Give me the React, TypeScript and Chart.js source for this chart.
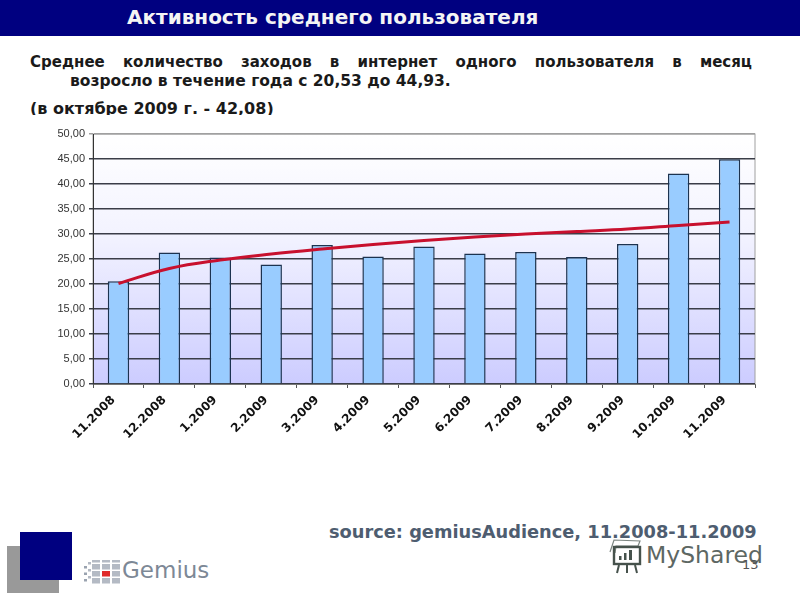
import { useEffect, useRef } from "react";
import Chart from "chart.js/auto";

const months = ["11.2008", "12.2008", "1.2009", "2.2009", "3.2009", "4.2009", "5.2009", "6.2009", "7.2009", "8.2009", "9.2009", "10.2009", "11.2009"];
const visits = [20.53, 26.3, 25.3, 23.9, 27.8, 25.5, 27.5, 26.1, 26.4, 25.4, 28.0, 42.08, 44.93];
const trend = [20.1, 23.1, 24.8, 26.0, 27.0, 27.9, 28.7, 29.4, 30.0, 30.5, 31.0, 31.7, 32.4];

const title = "Активность среднего пользователя";
const line1 = "Среднее количество заходов в интернет одного пользователя в месяц";
const line2 = "возросло в течение года с 20,53 до 44,93.";
const line3 = "(в октябре 2009 г. - 42,08)";
const source = "source: gemiusAudience, 11.2008-11.2009";

const font = '"DejaVu Sans", Verdana, sans-serif';

// gradient behind the bars + grey frame
const plotBackground = {
  id: "plotBackground",
  beforeDraw(chart: any) {
    const { ctx, chartArea: a } = chart;
    const g = ctx.createLinearGradient(0, a.top, 0, a.bottom);
    g.addColorStop(0, "#ffffff");
    g.addColorStop(0.4, "#f3f3ff");
    g.addColorStop(1, "#ccccff");
    ctx.save();
    ctx.fillStyle = g;
    ctx.fillRect(a.left, a.top, a.right - a.left, a.bottom - a.top);
    ctx.strokeStyle = "#a0a0a0";
    ctx.lineWidth = 1;
    ctx.strokeRect(a.left, a.top, a.right - a.left, a.bottom - a.top);
    ctx.restore();
  },
};

function GemiusMark() {
  const cols = [0, 1, 2];
  const rows = [0, 1, 2, 3];
  return (
    <svg width="40" height="30" style={{ position: "absolute", left: 83, top: 558 }}>
      {[8, 14.5, 21].map((y) => (
        <rect key={y} x="1" y={y} width="3" height="2.5" fill="#9aa3b0" />
      ))}
      {[4, 11, 18].map((y) => (
        <rect key={y} x="5" y={y} width="3" height="2.5" fill="#b4bac4" />
      ))}
      {cols.map((c) =>
        rows.map((r) => (
          <rect
            key={c + "-" + r}
            x={9 + c * 10}
            y={r === 0 ? 2 : r * 7 - 1}
            width="8"
            height={r === 0 ? 2.5 : 5.5}
            fill={c === 1 && r === 2 ? "#e02a2a" : "#b4bac4"}
          />
        ))
      )}
    </svg>
  );
}

function MySharedIcon() {
  return (
    <svg width="36" height="36" viewBox="0 0 36 36" style={{ position: "absolute", left: 608, top: 538 }} fill="none" stroke="#46524c">
      <path d="M2 14 L6 2 L32 3 L30 8 L8 8 L7 15" strokeWidth="1.2" stroke="#7b8580" />
      <rect x="6" y="9" width="26" height="17" strokeWidth="2.4" />
      <rect x="11" y="18" width="2.5" height="4" fill="#46524c" stroke="none" />
      <rect x="16" y="15" width="2.5" height="7" fill="#46524c" stroke="none" />
      <rect x="21" y="12" width="3" height="10" fill="#46524c" stroke="none" />
      <path d="M11 27 L9 35 M19 27 L19 35 M27 27 L29 35" strokeWidth="2" />
    </svg>
  );
}

export default function App() {
  const ref = useRef<HTMLCanvasElement>(null);

  useEffect(() => {
    if (!ref.current) return;
    const chart = new Chart(ref.current, {
      type: "bar",
      plugins: [plotBackground],
      data: {
        labels: months,
        datasets: [
          {
            type: "line",
            label: "Тренд",
            data: trend,
            borderColor: "#c8102e",
            borderWidth: 3,
            pointRadius: 0,
            tension: 0.4,
            order: 0,
          },
          {
            type: "bar",
            label: "Заходы",
            data: visits,
            backgroundColor: "#99ccff",
            borderColor: "#1c3350",
            borderWidth: 1.5,
            barPercentage: 0.42,
            categoryPercentage: 1,
            order: 1,
          },
        ],
      },
      options: {
        animation: false,
        responsive: false,
        devicePixelRatio: 1,
        layout: { padding: { left: 0, right: 45, top: 19, bottom: 0 } },
        plugins: { legend: { display: false }, title: { display: false }, tooltip: { enabled: false } },
        scales: {
          x: {
            afterFit: (s: any) => {
              s.height = 76;
            },
            border: { color: "#777777" },
            grid: { drawOnChartArea: false, drawTicks: true, tickLength: 4, color: "#555555" },
            ticks: {
              color: "#111111",
              font: { family: font, size: 12, weight: "bold" },
              minRotation: 45,
              maxRotation: 45,
              autoSkip: false,
              padding: 5,
              labelOffset: -5,
            },
          },
          y: {
            min: 0,
            max: 50,
            afterFit: (s: any) => {
              s.width = 93;
            },
            border: { color: "#333333" },
            grid: {
              color: (c: any) => (c.tick.value === 50 ? "#a0a0a0" : "#3a3d48"),
              lineWidth: 1.5,
              tickLength: 4,
            },
            ticks: {
              stepSize: 5,
              color: "#333333",
              padding: 4,
              font: { family: '"Liberation Sans", Arial, sans-serif', size: 11 },
              callback: (v: any) => Number(v).toFixed(2).replace(".", ","),
            },
          },
        },
      },
    } as any);
    return () => {
      chart.destroy();
    };
  }, [ref]);

  const abs = (left: number, top: number, extra: any = {}) => ({
    position: "absolute",
    left,
    top,
    whiteSpace: "nowrap",
    fontFamily: font,
    ...extra,
  });

  return (
    <div style={{ position: "absolute", left: 0, top: 0, width: 800, height: 600, overflow: "hidden", background: "#fff" }}>
      <div style={{ position: "absolute", left: 0, top: 0, width: 800, height: 36, background: "#000080" }} />
      <div style={abs(127, 5, { color: "#f4f4f4", fontSize: 20, fontWeight: "bold", lineHeight: "24px" }) as any}>{title}</div>

      <div
        style={
          abs(30, 52, {
            width: 722,
            color: "#1a1a1a",
            fontSize: 15,
            fontWeight: "bold",
            lineHeight: "20px",
            whiteSpace: "normal",
            textAlign: "justify",
            textAlignLast: "justify",
          }) as any
        }
      >
        {line1}
      </div>
      <div style={abs(70, 71, { color: "#1a1a1a", fontSize: 15.5, fontWeight: "bold", lineHeight: "20px" }) as any}>{line2}</div>
      <div style={abs(30, 99, { color: "#1a1a1a", fontSize: 16, fontWeight: "bold", lineHeight: "20px" }) as any}>{line3}</div>

      <canvas ref={ref} width={800} height={345} style={{ position: "absolute", left: 0, top: 115, background: "#fff" }} />

      <div style={abs(329, 521, { color: "#4e5d70", fontSize: 17.8, fontWeight: "bold", lineHeight: "22px" }) as any}>{source}</div>

      <div style={{ position: "absolute", left: 7, top: 546, width: 52, height: 47, background: "#999999" }} />
      <div style={{ position: "absolute", left: 20, top: 532, width: 52, height: 48, background: "#000080" }} />
      <GemiusMark />
      <div style={abs(122, 554, { color: "#7d8896", fontSize: 23, lineHeight: "32px" }) as any}>Gemius</div>

      <MySharedIcon />
      <div style={abs(646, 538, { color: "#5d6763", fontSize: 23.5, lineHeight: "34px" }) as any}>MyShared</div>
      <div style={abs(742, 556, { color: "#555", fontSize: 13, lineHeight: "18px" }) as any}>13</div>
    </div>
  );
}
